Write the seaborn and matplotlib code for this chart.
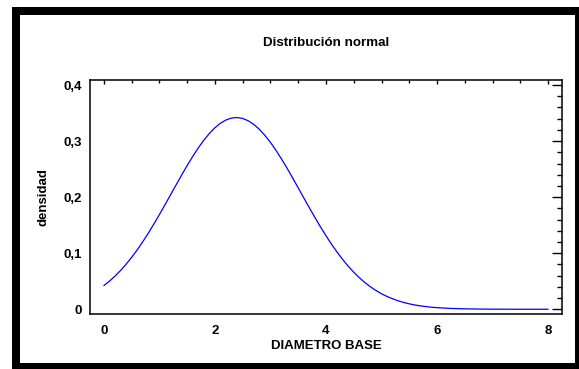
import matplotlib
matplotlib.use("Agg")
import matplotlib.pyplot as plt
from matplotlib.patches import Rectangle
from matplotlib.ticker import MultipleLocator
import pandas as pd
import seaborn as sns

# Density values of the fitted normal curve for base diameter
diametro = [0.0, 0.1, 0.2, 0.3, 0.4, 0.5, 0.6, 0.7, 0.8, 0.9,
            1.0, 1.1, 1.2, 1.3, 1.4, 1.5, 1.6, 1.7, 1.8, 1.9,
            2.0, 2.1, 2.2, 2.3, 2.4, 2.5, 2.6, 2.7, 2.8, 2.9,
            3.0, 3.1, 3.2, 3.3, 3.4, 3.5, 3.6, 3.7, 3.8, 3.9,
            4.0, 4.1, 4.2, 4.3, 4.4, 4.5, 4.6, 4.7, 4.8, 4.9,
            5.0, 5.1, 5.2, 5.3, 5.4, 5.5, 5.6, 5.7, 5.8, 5.9,
            6.0, 6.25, 6.5, 6.75, 7.0, 7.5, 8.0]
densidad = [0.0422, 0.0501, 0.0591, 0.0691, 0.0803, 0.0926, 0.1059, 0.1204, 0.1357, 0.1520,
            0.1689, 0.1863, 0.2041, 0.2218, 0.2394, 0.2564, 0.2727, 0.2878, 0.3016, 0.3137,
            0.3239, 0.3319, 0.3377, 0.3411, 0.3420, 0.3404, 0.3362, 0.3297, 0.3210, 0.3102,
            0.2976, 0.2834, 0.2679, 0.2514, 0.2341, 0.2165, 0.1987, 0.1811, 0.1638, 0.1470,
            0.1311, 0.1159, 0.1018, 0.0888, 0.0768, 0.0660, 0.0563, 0.0477, 0.0400, 0.0334,
            0.0276, 0.0227, 0.0186, 0.0150, 0.0121, 0.0096, 0.0076, 0.0060, 0.0047, 0.0036,
            0.0028, 0.0014, 0.0007, 0.0003, 0.0001, 0.0, 0.0]

x_ticks = [0, 2, 4, 6, 8]
x_tick_labels = ["0", "2", "4", "6", "8"]
y_ticks = [0.0, 0.1, 0.2, 0.3, 0.4]
y_tick_labels = ["0", "0,1", "0,2", "0,3", "0,4"]

titulo = "Distribución normal"
etiqueta_x = "DIAMETRO BASE"
etiqueta_y = "densidad"

sns.set_theme(style="white")
plt.rcParams["font.family"] = ["Liberation Sans", "DejaVu Sans"]
plt.rcParams["font.weight"] = "bold"
plt.rcParams["text.color"] = "black"
plt.rcParams["axes.labelcolor"] = "black"
plt.rcParams["xtick.color"] = "black"
plt.rcParams["ytick.color"] = "black"

W, H = 579, 369
fig = plt.figure(figsize=(W / 100, H / 100), dpi=100)
fig.patch.set_facecolor("white")

# Black frame around the panel
fig.patches.append(Rectangle((12 / W, 0), 1 - 12 / W, (H - 7) / H,
                             transform=fig.transFigure, facecolor="black",
                             edgecolor="none", zorder=-20))
fig.patches.append(Rectangle((20 / W, 1 - 363 / H), 555 / W, 348 / H,
                             transform=fig.transFigure, facecolor="white",
                             edgecolor="none", zorder=-10))

ax = fig.add_axes([90 / W, 1 - 314 / H, (562 - 90) / W, (314 - 80) / H])
ax.set_zorder(5)
ax.set_facecolor("white")

df = pd.DataFrame({"x": diametro, "y": densidad})
sns.lineplot(data=df, x="x", y="y", ax=ax, color="#0000ff", linewidth=0.9)

ax.set_xlim(-0.25, 8.25)
ax.set_ylim(-0.0085, 0.409)

ax.set_xticks(x_ticks)
ax.set_xticklabels(x_tick_labels)
ax.set_yticks(y_ticks)
ax.set_yticklabels(y_tick_labels)
ax.xaxis.set_minor_locator(MultipleLocator(0.5))
ax.yaxis.set_minor_locator(MultipleLocator(0.02))

for s in ax.spines.values():
    s.set_visible(True)
    s.set_color("black")
    s.set_linewidth(1.1)

ax.tick_params(axis="both", which="both", direction="in", colors="black",
               top=True, right=True, width=1.0)
ax.tick_params(axis="x", which="major", length=3.2, pad=8, labelsize=9.5)
ax.tick_params(axis="x", which="minor", length=2.2)
ax.tick_params(axis="y", which="major", length=7, pad=5.5, labelsize=9.5)
ax.tick_params(axis="y", which="minor", length=3.5)
for lbl in ax.get_xticklabels() + ax.get_yticklabels():
    lbl.set_fontweight("bold")

ax.set_xlabel(etiqueta_x, fontsize=9.5, fontweight="bold", labelpad=2)
ax.set_ylabel(etiqueta_y, fontsize=9.5, fontweight="bold", labelpad=10)

fig.text(326 / W, 1 - 43 / H, titulo, ha="center", va="center",
         fontsize=9.6, fontweight="bold", zorder=6)

fig.savefig("out.png", dpi=100)
